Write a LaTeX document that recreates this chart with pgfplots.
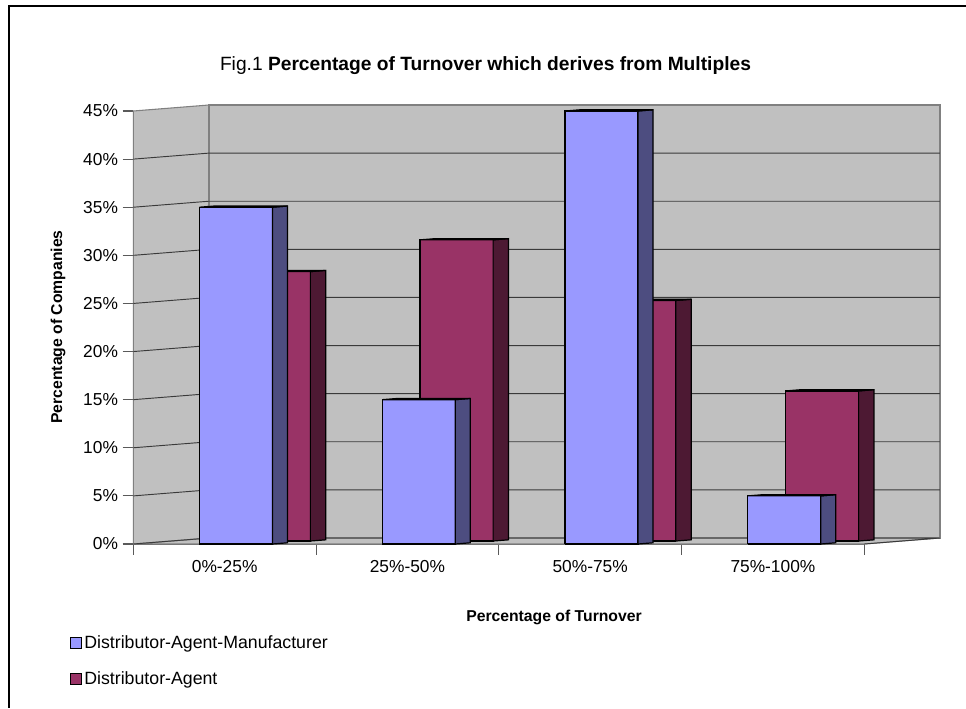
\documentclass[border=0pt]{standalone}
\usepackage{fontspec}
\setmainfont{Liberation Sans}
\usepackage{pgfplots}
\pgfplotsset{compat=1.18}
\definecolor{wall}{HTML}{C0C0C0}
\definecolor{bluef}{HTML}{9999FF}
\definecolor{blues}{HTML}{4D4D80}
\definecolor{crimf}{HTML}{993366}
\definecolor{crims}{HTML}{4D1933}
\definecolor{edge}{HTML}{808080}
\definecolor{gridc}{HTML}{3A3A3A}
\pgfplotsset{
  bf/.style={forget plot,fill=bluef,draw=black,line width=0.9pt,line join=miter},
  bs/.style={forget plot,fill=blues,draw=black,line width=0.9pt,line join=miter},
  cf/.style={forget plot,fill=crimf,draw=black,line width=0.9pt,line join=miter},
  cs/.style={forget plot,fill=crims,draw=black,line width=0.9pt,line join=miter},
  gl/.style={forget plot,draw=gridc,line width=0.7pt},
}
\begin{document}
\begin{tikzpicture}
\useasboundingbox (-99.975pt,-123pt) rectangle (624.525pt,408pt);
\begin{axis}[
  at={(0,0)},anchor=south west,
  scale only axis,width=548.25pt,height=324.75pt,
  xmin=0,xmax=4,ymin=0,ymax=45,
  clip=false,
  axis x line*=bottom,axis y line*=left,
  axis line style={-,draw=edge!70!black,line width=0.8pt},
  tick style={draw=edge!70!black,line width=0.8pt},
  tick align=outside,major tick length=8pt,
  xtick={0,1,2,3,4},
  x tick label as interval=true,
  xticklabels={0\%-25\%,25\%-50\%,50\%-75\%,75\%-100\%},
  ytick={0,5,10,15,20,25,30,35,40,45},
  yticklabels={0\%,5\%,10\%,15\%,20\%,25\%,30\%,35\%,40\%,45\%},
  ticklabel style={font=\fontsize{13}{15}\selectfont,text=black},
  xticklabel style={yshift=-1pt},
  title={Fig.1 \textbf{Percentage of Turnover which derives from Multiples}},
  title style={at={(axis description cs:0.4818,1.0855)},anchor=center,yshift=0pt,font=\fontsize{14.4}{17}\selectfont},
  xlabel={Percentage of Turnover},
  xlabel style={at={(axis description cs:0.5755,-0.1686)},anchor=center,font=\bfseries\fontsize{11.8}{14}\selectfont},
  ylabel={Percentage of Companies},
  ylabel style={at={(axis description cs:-0.1030,0.501)},anchor=center,rotate=0,font=\bfseries\fontsize{11.8}{14}\selectfont},
  legend style={draw=none,fill=none,at={(axis description cs:-0.0870,-0.2055)},anchor=north west,
    font=\fontsize{13.3}{15}\selectfont,row sep=12pt,inner sep=0pt,outer sep=0pt,
    /tikz/every even column/.append style={column sep=0pt}},
  legend cell align=left,
  legend image code/.code={\draw[#1,line width=0.8pt] (0pt,-4pt) rectangle (8.2pt,4pt);},
]
% frame
\addplot[forget plot,draw=black,line width=0.8pt] coordinates {(-0.680,-17.04)(-0.680,55.91)(4.557,55.91)};
% walls and floor
\addplot[forget plot,fill=wall,draw=edge,line width=0.8pt] coordinates {(0,0)(0.414,0.624)(4.414,0.624)(4,0)(0,0)};
\addplot[forget plot,fill=wall,draw=edge,line width=0.8pt] coordinates {(0,0)(0,45)(0.414,45.624)(0.414,0.624)(0,0)};
\addplot[forget plot,fill=wall,draw=edge,line width=1.1pt] coordinates {(0.414,0.624)(0.414,45.624)(4.414,45.624)(4.414,0.624)(0.414,0.624)};
% grid
\addplot[gl] coordinates {(0,0)(0.414,0.624)(4.414,0.624)(4,0)};
\addplot[gl] coordinates {(0,5)(0.414,5.624)(4.414,5.624)};
\addplot[gl] coordinates {(0,10)(0.414,10.624)(4.414,10.624)};
\addplot[gl] coordinates {(0,15)(0.414,15.624)(4.414,15.624)};
\addplot[gl] coordinates {(0,20)(0.414,20.624)(4.414,20.624)};
\addplot[gl] coordinates {(0,25)(0.414,25.624)(4.414,25.624)};
\addplot[gl] coordinates {(0,30)(0.414,30.624)(4.414,30.624)};
\addplot[gl] coordinates {(0,35)(0.414,35.624)(4.414,35.624)};
\addplot[gl] coordinates {(0,40)(0.414,40.624)(4.414,40.624)};
% Distributor-Agent bars: 28.0, 31.3, 25.0, 15.6 (+0.31 depth offset)
\addplot[cf] coordinates {(0.569,0.31)(0.569,28.31)(0.969,28.31)(0.969,0.31)(0.569,0.31)};
\addplot[cs] coordinates {(0.969,0.31)(0.969,28.31)(1.053,28.435)(1.053,0.435)(0.969,0.31)};
\addplot[cs] coordinates {(0.569,28.31)(0.653,28.435)(1.053,28.435)(0.969,28.31)(0.569,28.31)};
\addplot[cf] coordinates {(1.569,0.31)(1.569,31.61)(1.969,31.61)(1.969,0.31)(1.569,0.31)};
\addplot[cs] coordinates {(1.969,0.31)(1.969,31.61)(2.053,31.735)(2.053,0.435)(1.969,0.31)};
\addplot[cs] coordinates {(1.569,31.61)(1.653,31.735)(2.053,31.735)(1.969,31.61)(1.569,31.61)};
\addplot[cf] coordinates {(2.569,0.31)(2.569,25.31)(2.969,25.31)(2.969,0.31)(2.569,0.31)};
\addplot[cs] coordinates {(2.969,0.31)(2.969,25.31)(3.053,25.435)(3.053,0.435)(2.969,0.31)};
\addplot[cs] coordinates {(2.569,25.31)(2.653,25.435)(3.053,25.435)(2.969,25.31)(2.569,25.31)};
\addplot[cf] coordinates {(3.569,0.31)(3.569,15.91)(3.969,15.91)(3.969,0.31)(3.569,0.31)};
\addplot[cs] coordinates {(3.969,0.31)(3.969,15.91)(4.053,16.035)(4.053,0.435)(3.969,0.31)};
\addplot[cs] coordinates {(3.569,15.91)(3.653,16.035)(4.053,16.035)(3.969,15.91)(3.569,15.91)};
% Distributor-Agent-Manufacturer bars: 35, 15, 45, 5
\addplot[bf] coordinates {(0.362,0)(0.362,35)(0.762,35)(0.762,0)(0.362,0)};
\addplot[bs] coordinates {(0.762,0)(0.762,35)(0.844,35.125)(0.844,0.125)(0.762,0)};
\addplot[bs] coordinates {(0.362,35)(0.444,35.125)(0.844,35.125)(0.762,35)(0.362,35)};
\addplot[bf] coordinates {(1.362,0)(1.362,15)(1.762,15)(1.762,0)(1.362,0)};
\addplot[bs] coordinates {(1.762,0)(1.762,15)(1.844,15.125)(1.844,0.125)(1.762,0)};
\addplot[bs] coordinates {(1.362,15)(1.444,15.125)(1.844,15.125)(1.762,15)(1.362,15)};
\addplot[bf] coordinates {(2.362,0)(2.362,45)(2.762,45)(2.762,0)(2.362,0)};
\addplot[bs] coordinates {(2.762,0)(2.762,45)(2.844,45.125)(2.844,0.125)(2.762,0)};
\addplot[bs] coordinates {(2.362,45)(2.444,45.125)(2.844,45.125)(2.762,45)(2.362,45)};
\addplot[bf] coordinates {(3.362,0)(3.362,5)(3.762,5)(3.762,0)(3.362,0)};
\addplot[bs] coordinates {(3.762,0)(3.762,5)(3.844,5.125)(3.844,0.125)(3.762,0)};
\addplot[bs] coordinates {(3.362,5)(3.444,5.125)(3.844,5.125)(3.762,5)(3.362,5)};
% legend
\addlegendimage{fill=bluef,draw=black}
\addlegendentry{Distributor-Agent-Manufacturer}
\addlegendimage{fill=crimf,draw=black}
\addlegendentry{Distributor-Agent}
\end{axis}
\end{tikzpicture}
\end{document}
